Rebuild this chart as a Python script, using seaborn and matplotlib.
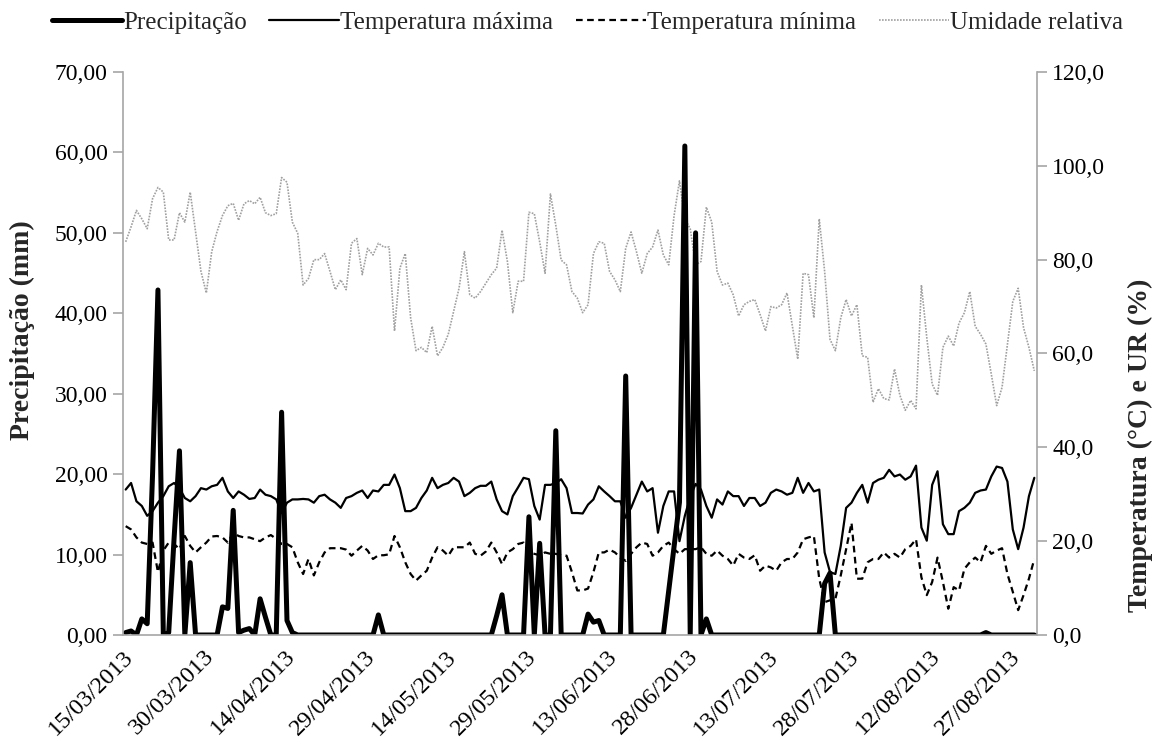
import numpy as np
import pandas as pd
import matplotlib
matplotlib.use("Agg")
import matplotlib.pyplot as plt
import matplotlib.dates as mdates
from matplotlib.ticker import FuncFormatter, MultipleLocator, FixedLocator
from matplotlib.lines import Line2D
import seaborn as sns

# ---------------- data (daily, 15/03/2013 .. 31/08/2013) ----------------
start_date = "2013-03-15"

precipitacao = [
    0.3, 0.5, 0.0, 2.0, 1.4, 20.0, 42.9, 0.0, 0.3, 12.0,
    22.9, 0.0, 9.0, 0.0, 0.0, 0.0, 0.0, 0.0, 3.5, 3.3,
    15.5, 0.3, 0.6, 0.8, 0.0, 4.5, 2.2, 0.0, 0.0, 27.7,
    1.8, 0.3, 0.0, 0.0, 0.0, 0.0, 0.0, 0.0, 0.0, 0.0,
    0.0, 0.0, 0.0, 0.0, 0.0, 0.0, 0.0, 2.5, 0.0, 0.0,
    0.0, 0.0, 0.0, 0.0, 0.0, 0.0, 0.0, 0.0, 0.0, 0.0,
    0.0, 0.0, 0.0, 0.0, 0.0, 0.0, 0.0, 0.0, 0.0, 2.4,
    5.0, 0.0, 0.0, 0.0, 0.0, 14.7, 0.0, 11.4, 0.0, 0.0,
    25.4, 0.0, 0.0, 0.0, 0.0, 0.0, 2.6, 1.6, 1.8, 0.0,
    0.0, 0.0, 0.0, 32.2, 0.0, 0.0, 0.0, 0.0, 0.0, 0.0,
    0.0, 5.5, 11.0, 16.5, 60.8, 0.0, 50.0, 0.0, 2.0, 0.0,
    0.0, 0.0, 0.0, 0.0, 0.0, 0.0, 0.0, 0.0, 0.0, 0.0,
    0.0, 0.0, 0.0, 0.0, 0.0, 0.0, 0.0, 0.0, 0.0, 0.0,
    6.4, 7.7, 0.0, 0.0, 0.0, 0.0, 0.0, 0.0, 0.0, 0.0,
    0.0, 0.0, 0.0, 0.0, 0.0, 0.0, 0.0, 0.0, 0.0, 0.0,
    0.0, 0.0, 0.0, 0.0, 0.0, 0.0, 0.0, 0.0, 0.0, 0.0,
    0.3, 0.0, 0.0, 0.0, 0.0, 0.0, 0.0, 0.0, 0.0, 0.0,
]

temp_max = [
    31.0, 32.4, 28.5, 27.5, 25.4, 26.4, 28.2, 29.6, 31.7, 32.4,
    31.3, 29.2, 28.5, 29.6, 31.3, 31.0, 31.7, 32.0, 33.5, 30.6,
    29.2, 30.6, 29.9, 29.0, 29.2, 31.0, 29.9, 29.6, 28.9, 26.0,
    28.2, 28.9, 28.9, 29.0, 28.9, 28.2, 29.6, 29.9, 28.9, 28.2,
    27.1, 29.2, 29.6, 30.3, 30.8, 29.2, 30.8, 30.6, 32.0, 32.0,
    34.2, 31.3, 26.4, 26.4, 27.1, 29.2, 30.8, 33.5, 31.3, 32.0,
    32.4, 33.5, 32.7, 29.6, 30.3, 31.3, 31.8, 31.8, 32.7, 28.9,
    26.4, 25.7, 29.6, 31.5, 33.5, 33.2, 27.5, 24.6, 32.0, 32.0,
    32.4, 33.2, 31.3, 26.0, 26.0, 25.9, 27.8, 28.9, 31.7, 30.6,
    29.6, 28.5, 28.5, 25.0, 27.1, 29.9, 32.7, 30.6, 31.3, 21.8,
    27.5, 30.6, 30.6, 20.0, 25.4, 29.4, 32.2, 31.0, 27.5, 25.0,
    28.9, 27.8, 30.6, 29.6, 29.6, 27.5, 29.2, 29.2, 27.5, 28.2,
    30.3, 31.0, 30.6, 29.9, 30.3, 33.5, 30.3, 32.4, 30.6, 31.0,
    17.6, 13.4, 13.0, 19.0, 27.1, 28.2, 30.3, 32.0, 28.2, 32.4,
    33.1, 33.5, 35.2, 33.8, 34.2, 33.1, 33.8, 36.1, 22.9, 20.1,
    32.0, 34.9, 23.6, 21.5, 21.5, 26.4, 27.1, 28.2, 30.3, 30.8,
    31.0, 33.8, 35.9, 35.6, 32.7, 22.5, 18.3, 22.9, 29.6, 33.5,
]

temp_min = [
    23.2, 22.5, 20.8, 19.7, 19.4, 19.7, 13.4, 18.0, 19.7, 19.4,
    18.3, 21.1, 19.0, 17.6, 18.7, 19.7, 21.0, 21.1, 20.8, 19.7,
    21.8, 21.1, 20.8, 20.8, 20.4, 20.0, 20.8, 21.3, 20.5, 19.4,
    19.4, 18.7, 15.5, 13.0, 16.2, 12.7, 15.5, 17.6, 18.5, 18.5,
    18.5, 18.2, 16.9, 18.0, 19.0, 18.0, 16.2, 17.0, 17.0, 17.2,
    21.1, 18.7, 15.5, 13.0, 11.6, 12.7, 13.7, 16.5, 18.7, 18.0,
    16.9, 18.7, 18.7, 18.7, 19.7, 17.3, 16.9, 17.8, 19.7, 17.6,
    15.1, 17.6, 18.3, 19.4, 19.7, 17.6, 17.3, 17.0, 17.6, 17.3,
    17.3, 17.0, 16.9, 13.4, 9.5, 9.5, 9.9, 13.4, 17.6, 17.6,
    18.2, 17.6, 16.5, 15.8, 17.3, 18.7, 19.7, 19.4, 16.9, 17.6,
    19.0, 19.7, 18.3, 17.3, 18.3, 18.3, 18.3, 18.7, 17.3, 16.9,
    18.0, 16.9, 16.2, 14.8, 17.3, 16.5, 16.2, 17.0, 13.7, 14.8,
    14.4, 13.7, 15.5, 16.2, 16.2, 17.6, 20.4, 20.8, 21.1, 12.0,
    7.0, 7.4, 7.7, 12.7, 18.3, 23.9, 12.0, 12.0, 15.5, 16.2,
    16.2, 17.6, 16.5, 17.3, 16.5, 18.3, 19.0, 20.4, 12.3, 8.5,
    11.3, 16.5, 11.3, 5.6, 10.2, 9.5, 14.1, 15.5, 16.5, 15.5,
    19.0, 17.3, 18.0, 18.5, 13.0, 9.2, 5.3, 8.5, 12.0, 16.2,
]

umidade = [
    83.8, 87.0, 90.5, 88.7, 86.6, 93.0, 95.4, 94.4, 84.2, 84.2,
    90.0, 88.0, 94.4, 86.0, 77.5, 72.9, 81.7, 86.0, 89.4, 91.5,
    92.0, 88.4, 91.9, 92.6, 91.9, 93.3, 90.0, 89.4, 89.8, 97.5,
    96.5, 88.0, 85.6, 74.6, 76.0, 80.0, 80.0, 81.3, 77.5, 73.6,
    75.7, 73.6, 83.5, 84.5, 76.8, 82.4, 81.0, 83.5, 82.7, 82.7,
    64.8, 78.2, 81.3, 67.6, 60.6, 61.3, 60.2, 65.8, 59.5, 61.3,
    64.1, 69.0, 73.9, 81.7, 72.5, 71.8, 73.2, 75.0, 76.8, 78.2,
    86.3, 79.6, 68.7, 75.4, 75.4, 90.1, 89.8, 83.8, 77.1, 94.0,
    87.3, 79.9, 78.9, 73.2, 71.8, 68.7, 70.4, 81.3, 83.8, 83.5,
    77.5, 75.7, 73.2, 82.4, 85.9, 81.7, 77.1, 81.3, 82.7, 86.3,
    81.0, 78.9, 89.4, 96.8, 88.7, 86.6, 78.9, 79.6, 91.2, 88.0,
    77.5, 74.6, 75.0, 72.5, 68.0, 70.4, 71.1, 71.5, 68.3, 64.8,
    70.0, 69.7, 70.4, 72.9, 65.8, 58.8, 77.1, 76.8, 67.6, 88.7,
    77.5, 63.0, 60.6, 67.6, 71.5, 68.0, 70.4, 59.5, 59.2, 49.6,
    52.5, 50.4, 50.1, 56.7, 51.1, 47.9, 50.0, 48.2, 74.6, 63.4,
    53.5, 51.1, 61.3, 63.7, 61.6, 66.5, 68.7, 73.2, 65.8, 64.1,
    62.0, 55.6, 48.9, 52.8, 62.0, 71.1, 73.9, 65.5, 61.3, 56.3,
]

tick_dates = ["15/03/2013", "30/03/2013", "14/04/2013", "29/04/2013",
              "14/05/2013", "29/05/2013", "13/06/2013", "28/06/2013",
              "13/07/2013", "28/07/2013", "12/08/2013", "27/08/2013"]

labels = ["Precipitação", "Temperatura máxima", "Temperatura mínima", "Umidade relativa"]
ylabel_left = "Precipitação (mm)"
ylabel_right = "Temperatura (°C) e UR (%)"

# ---------------- build frame ----------------
n = len(precipitacao)
dates = pd.date_range(start_date, periods=n, freq="D") + pd.Timedelta(hours=12)
df = pd.DataFrame({
    "data": dates,
    "prec": precipitacao,
    "tmax": temp_max,
    "tmin": temp_min,
    "ur": umidade,
})

# ---------------- style ----------------
sns.set_style("white")
plt.rcParams["font.family"] = ["Liberation Serif", "DejaVu Serif"]

FS = 17
FS_X = 17.5
FS_LAB = 20
GRAY_AX = "#A6A6A6"

W, H = 1156, 744
fig = plt.figure(figsize=(W / 100, H / 100), dpi=100)
ax = fig.add_axes([123 / W, 1 - 635 / H, (1037 - 123) / W, (635 - 72) / H])
ax2 = ax.twinx()

col_ur = "#A0A0A0"
sns.lineplot(data=df, x="data", y="ur", ax=ax2, color=col_ur, linewidth=1.2,
             linestyle=(0, (1, 0.8)), estimator=None)
sns.lineplot(data=df, x="data", y="tmin", ax=ax2, color="black", linewidth=1.6,
             linestyle=(0, (3, 2)), estimator=None)
sns.lineplot(data=df, x="data", y="tmax", ax=ax2, color="black", linewidth=1.6,
             estimator=None)
sns.lineplot(data=df, x="data", y="prec", ax=ax, color="black", linewidth=3.6,
             estimator=None)

# precipitation drawn on top
ax.set_zorder(ax2.get_zorder() + 1)
ax.patch.set_visible(False)

# axes limits
x0 = pd.Timestamp(start_date)
x1 = x0 + pd.Timedelta(days=n)
ax.set_xlim(x0, x1)
ax.set_ylim(0, 70)
ax2.set_ylim(0, 120)

ax.yaxis.set_major_locator(MultipleLocator(10))
ax2.yaxis.set_major_locator(MultipleLocator(20))
ax.yaxis.set_major_formatter(FuncFormatter(lambda v, p: f"{v:.2f}".replace(".", ",")))
ax2.yaxis.set_major_formatter(FuncFormatter(lambda v, p: f"{v:.1f}".replace(".", ",")))

tick_pos = [pd.to_datetime(t, format="%d/%m/%Y") for t in tick_dates]
ax.xaxis.set_major_locator(FixedLocator(mdates.date2num(tick_pos)))
ax.xaxis.set_major_formatter(mdates.DateFormatter("%d/%m/%Y"))

for a in (ax, ax2):
    a.set_xlabel("")
    a.set_ylabel("")
    a.grid(False)
    for s in a.spines.values():
        s.set_color(GRAY_AX)
        s.set_linewidth(1.2)
    a.spines["top"].set_visible(False)
    a.tick_params(axis="both", colors=GRAY_AX, labelcolor="black",
                  labelsize=FS, length=7, width=1.2, direction="out")

ax.spines["right"].set_visible(False)
ax2.spines["left"].set_visible(False)
ax2.spines["bottom"].set_visible(False)
ax.tick_params(axis="x", pad=1, labelsize=FS_X)
ax.tick_params(axis="y", pad=4)
ax2.tick_params(axis="y", pad=4)

for lab in ax.get_xticklabels():
    lab.set_rotation(45)
    lab.set_ha("right")
    lab.set_va("top")
    lab.set_rotation_mode("anchor")

# axis titles
fig.text(22 / W, 1 - 330 / H, ylabel_left, rotation=90, ha="center", va="center",
         fontsize=FS_LAB, fontweight="bold")
fig.text(1140 / W, 1 - 445 / H, ylabel_right, rotation=90, ha="center", va="center",
         fontsize=FS_LAB, fontweight="bold")

# legend
handles = [
    Line2D([], [], color="black", linewidth=3.6),
    Line2D([], [], color="black", linewidth=1.6),
    Line2D([], [], color="black", linewidth=1.6, linestyle=(0, (3, 2))),
    Line2D([], [], color=col_ur, linewidth=1.2, linestyle=(0, (1, 0.8))),
]
fig.legend(handles, labels, loc="upper center", bbox_to_anchor=(0.508, 1.008),
           ncol=4, frameon=False, fontsize=FS + 1, handlelength=2.8,
           handletextpad=0.05, columnspacing=0.9, borderaxespad=0.3)

fig.savefig("out.png", dpi=100)
